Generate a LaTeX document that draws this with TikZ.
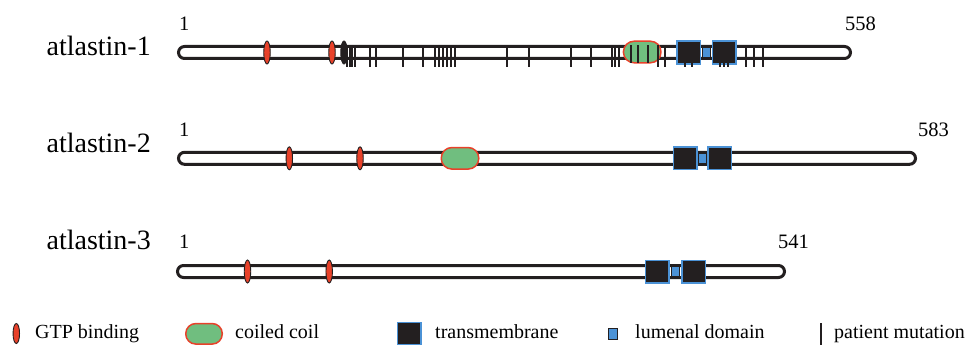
\documentclass[tikz,border=0pt]{standalone}
\usepackage{fontspec}
\setmainfont{Liberation Serif}
\usetikzlibrary{shapes.geometric}
\definecolor{gtpred}{HTML}{E8412A}
\definecolor{coilgreen}{HTML}{70BE7F}
\definecolor{tmblue}{HTML}{4B92D6}
\definecolor{inkdark}{HTML}{231F20}
\begin{document}
\begin{tikzpicture}[x=1pt,y=-1pt,
 bar/.style={draw=inkdark, line width=3pt, fill=white, rectangle, rounded corners=6pt, minimum height=12pt, inner sep=0pt},
 gtp/.style={ellipse, draw=inkdark, line width=0.9pt, fill=gtpred, minimum width=6.5pt, minimum height=23pt, inner sep=0pt},
 gtpdark/.style={gtp, fill=inkdark},
 coil/.style={rectangle, rounded corners=10.5pt, draw=gtpred, line width=1.5pt, fill=coilgreen, minimum width=37.5pt, minimum height=21.5pt, inner sep=0pt},
 tm/.style={rectangle, draw=tmblue, line width=1.5pt, fill=inkdark, minimum width=23.5pt, minimum height=22.5pt, inner sep=0pt},
 lum/.style={rectangle, draw=inkdark, line width=1pt, fill=tmblue, minimum width=8pt, minimum height=10pt, inner sep=0pt},
 mut/.style={draw=inkdark, line width=2pt},
 lbl/.style={font=\fontsize{28}{32}\selectfont, anchor=base east, inner sep=0pt},
 num/.style={font=\fontsize{20.5}{24}\selectfont, anchor=base west, inner sep=0pt},
 leg/.style={font=\fontsize{20}{24}\selectfont, anchor=base west, inner sep=0pt}]
\useasboundingbox (0,0) rectangle (968,345);

% ---------- atlastin-1 ----------
\node[lbl] (l1) at (151,56) {atlastin-1};
\node[num] (s1) at (179,30.5) {1};
\node[num] (e1) at (845,30.5) {558};
\node[bar, minimum width=672pt] (b1) at (514.5,52.5) {};
\node[gtp] (g1a) at (267,52.5) {};
\node[gtp] (g1b) at (332,52.5) {};
\node[gtpdark] (g1c) at (344,52.5) {};
\node[coil] (c1) at (642.2,52) {};
\node[tm] (t1a) at (688.5,52.5) {};
\node[lum] (u1) at (706.2,52.5) {};
\node[tm] (t1b) at (724.2,52.5) {};
\foreach \x in {347,349.5,352,354.5,370,376,403,423,435,439,443,447,451,455,506.7,529,570.7,590.7,611.7,615,618.5,658,664.5,685,691.7,720,724,728.3,745.7,754,763.3}
  \draw[mut] (\x,45.5) -- (\x,67);
\foreach \x in {630.5,637.5,648.3}
  \draw[mut] (\x,45.5) -- (\x,62.5);

% ---------- atlastin-2 ----------
\node[lbl] (l2) at (151,152) {atlastin-2};
\node[num] (s2) at (179,136) {1};
\node[num] (e2) at (918,136) {583};
\node[bar, minimum width=737pt] (b2) at (547,158.3) {};
\node[gtp] (g2a) at (289.3,158.3) {};
\node[gtp] (g2b) at (360,158.3) {};
\node[coil] (c2) at (460,158.3) {};
\node[tm] (t2a) at (685,158.3) {};
\node[lum] (u2) at (702,158.3) {};
\node[tm] (t2b) at (719.8,158.3) {};

% ---------- atlastin-3 ----------
\node[lbl] (l3) at (151,249) {atlastin-3};
\node[num] (s3) at (179,248) {1};
\node[num] (e3) at (778,248) {541};
\node[bar, minimum width=607pt] (b3) at (481,271.5) {};
\node[gtp] (g3a) at (247.5,271.5) {};
\node[gtp] (g3b) at (329.2,271.5) {};
\node[tm] (t3a) at (657,271.5) {};
\node[lum] (u3) at (675.6,271.5) {};
\node[tm] (t3b) at (693.8,271.5) {};

% ---------- legend ----------
\node[gtp, minimum width=6.5pt, minimum height=20pt] (kg) at (16.3,333.5) {};
\node[leg] (kgt) at (35,338.5) {GTP binding};
\node[coil, minimum width=36.5pt, minimum height=20.5pt, rounded corners=10pt] (kc) at (204,333.8) {};
\node[leg] (kct) at (235,338.5) {coiled coil};
\node[tm, minimum width=23.5pt, minimum height=22pt] (kt) at (409.2,333.4) {};
\node[leg] (ktt) at (435,338.5) {transmembrane};
\node[lum, minimum width=8.5pt, minimum height=11pt] (ku) at (612.8,334) {};
\node[leg] (kut) at (635,338.5) {lumenal domain};
\coordinate (km1) at (820.8,323);
\coordinate (km2) at (820.8,345);
\draw[mut] (km1) -- (km2);
\node[leg] (kmt) at (834,338.5) {patient mutation};
\end{tikzpicture}
\end{document}
